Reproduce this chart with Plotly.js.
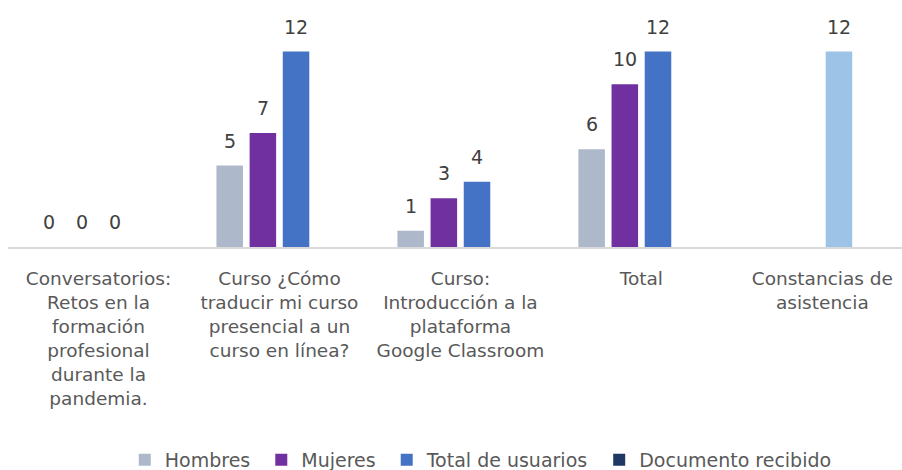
<!DOCTYPE html>
<html>
<head>
<meta charset="utf-8">
<script src="https://cdn.plot.ly/plotly-3.0.1.min.js"></script>
<style>html,body{margin:0;padding:0;background:#fff;}#chart{width:902px;height:470px;}</style>
</head>
<body>
<div id="chart"></div>
<script>
const categories = [
  "Conversatorios:<br>Retos en la<br>formación<br>profesional<br>durante la<br>pandemia.",
  "Curso ¿Cómo<br>traducir mi curso<br>presencial a un<br>curso en línea?",
  "Curso:<br>Introducción a la<br>plataforma<br>Google Classroom",
  "Total",
  "Constancias de<br>asistencia"
];
const seriesNames = ["Hombres", "Mujeres", "Total de usuarios", "Documento recibido"];
const hombres = [0, 5, 1, 6, null];
const mujeres = [0, 7, 3, 10, null];
const totalUsuarios = [0, 12, 4, 12, 12];
const documentoRecibido = [null, null, null, null, null];
const seriesColors = ["#ADB9CA", "#7030A0", "#4472C4", "#203864"];
const totalUsuariosPointColors = ["#4472C4", "#4472C4", "#4472C4", "#4472C4", "#9DC3E6"];

const allSeries = [hombres, mujeres, totalUsuarios, documentoRecibido];
const FONT = "DejaVu Sans, sans-serif";

const traces = allSeries.map((vals, i) => ({
  type: "bar",
  name: seriesNames[i] + (i < 3 ? "\u00a0" : ""),
  x: categories,
  y: vals,
  marker: { color: i === 2 ? totalUsuariosPointColors : seriesColors[i] },
  hoverinfo: "skip"
}));

const slotPx = 33;
const annotations = [];
allSeries.forEach((vals, i) => {
  vals.forEach((v, j) => {
    if (v === null) return;
    annotations.push({
      x: categories[j], y: v, xref: "x", yref: "y",
      text: String(v), showarrow: false,
      xanchor: "center", yanchor: "middle",
      xshift: (i - 1.5) * slotPx, yshift: 25,
      font: { family: FONT, size: 19, color: "#404040" }
    });
  });
});

const layout = {
  width: 902, height: 470,
  margin: { l: 8, r: 0, t: 19, b: 223, pad: 0, autoexpand: false },
  paper_bgcolor: "#ffffff", plot_bgcolor: "#ffffff",
  barmode: "group",
  bargap: 0.267,
  bargroupgap: 0.2,
  showlegend: true,
  legend: {
    orientation: "h", xref: "container", yref: "container",
    x: 0.533, xanchor: "center", y: 0.0213, yanchor: "middle",
    font: { family: FONT, size: 19, color: "#595959" },
    traceorder: "normal"
  },
  xaxis: {
    type: "category",
    range: [-0.5, 4.44],
    showline: true, linecolor: "#D9D9D9", linewidth: 1.5,
    showgrid: false, zeroline: false,
    ticks: "outside", ticklen: 14, tickcolor: "rgba(0,0,0,0)",
    tickfont: { family: FONT, size: 18.5, color: "#595959" },
    tickangle: 0, fixedrange: true, automargin: false
  },
  yaxis: {
    range: [0, 14],
    showline: false, showgrid: false, zeroline: false,
    showticklabels: false, ticks: "", fixedrange: true
  },
  annotations: annotations
};

Plotly.newPlot("chart", traces, layout, { displayModeBar: false, staticPlot: true });
</script>
</body>
</html>
